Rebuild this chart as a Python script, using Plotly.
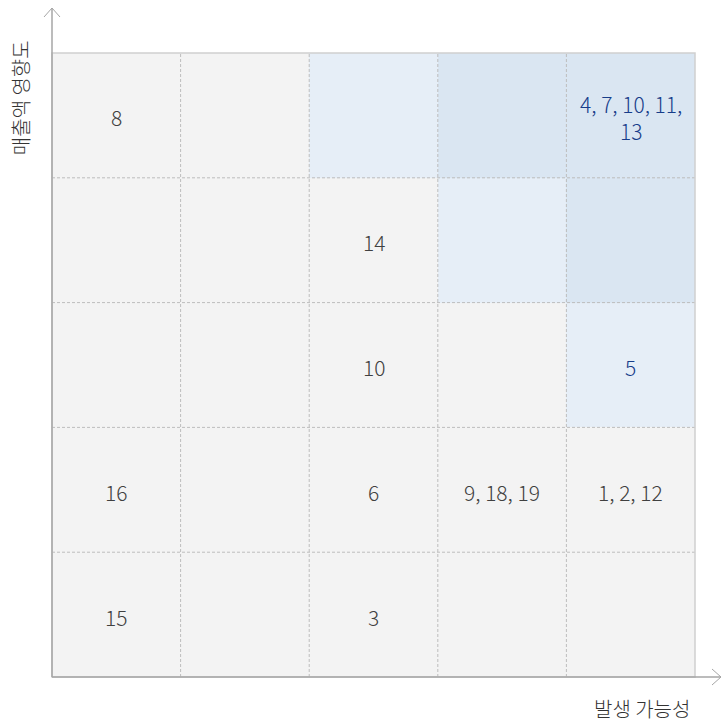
import plotly.graph_objects as go

# risk matrix: likelihood (x) vs sales impact (y)
likelihood = [1, 2, 3, 4, 5]
impact = [1, 2, 3, 4, 5]
# 0 = normal, 1 = watch, 2 = high (rows from impact 1 up to 5)
zone = [
    [0, 0, 0, 0, 0],
    [0, 0, 0, 0, 0],
    [0, 0, 0, 0, 1],
    [0, 0, 0, 1, 2],
    [0, 0, 1, 2, 2],
]

# risk item numbers placed in each cell
item_x = [1, 5, 3, 3, 5, 1, 3, 4, 5, 1, 3]
item_y = [5, 5, 4, 3, 3, 2, 2, 2, 2, 1, 1]
item_text = ["8", "4, 7, 10, 11,<br>13", "14", "10", "5", "16", "6",
             "9, 18, 19", "1, 2, 12", "15", "3"]

FONT = "Noto Sans CJK KR"
GRAY_TXT = "#404040"
BLUE_TXT = "#173d8a"

zone_of = {(x, y): zone[y - 1][x - 1] for x in likelihood for y in impact}

fig = go.Figure()
fig.add_trace(go.Heatmap(
    x=likelihood, y=impact, z=zone,
    zmin=0, zmax=2,
    colorscale=[[0, "#f3f3f3"], [0.25, "#f3f3f3"], [0.25, "#e6eef7"],
                [0.75, "#e6eef7"], [0.75, "#dae6f2"], [1, "#dae6f2"]],
    showscale=False, hoverinfo="skip",
))

# cell labels, blue on the highlighted cells
for x, y, t in zip(item_x, item_y, item_text):
    color = BLUE_TXT if zone_of[(x, y)] > 0 else GRAY_TXT
    fig.add_annotation(x=x, y=y, text=t, showarrow=False, yshift=-2,
                       font=dict(family=FONT, size=21, color=color, weight=300))

# dashed cell separators
grid = dict(color="#bdbdbd", width=1, dash="3px,2px")
for b in [1.5, 2.5, 3.5, 4.5]:
    fig.add_shape(type="line", xref="x", yref="y", x0=b, x1=b, y0=0.5, y1=5.5,
                  line=grid, layer="above")
    fig.add_shape(type="line", xref="x", yref="y", x0=0.5, x1=5.5, y0=b, y1=b,
                  line=grid, layer="above")

# outer frame (top/right lighter)
fig.add_shape(type="rect", xref="paper", yref="paper", x0=0, x1=1, y0=0, y1=1,
              line=dict(color="#d0d0d0", width=1.5), layer="above")

# axes with open arrowheads
ax_line = dict(color="#a6a6a6", width=1.5)
W, H = 643.0, 624.0
fig.add_shape(type="line", xref="paper", yref="paper", x0=0, x1=0,
              y0=0, y1=669 / H, line=ax_line, layer="above")
fig.add_shape(type="line", xref="paper", yref="paper", x0=0, x1=669 / W,
              y0=0, y1=0, line=ax_line, layer="above")
arrow = dict(color="#a6a6a6", width=1)
fig.add_shape(type="path", xref="paper", yref="paper",
              path=f"M {-8 / W} {660 / H} L 0 {669 / H} L {8 / W} {660 / H}",
              line=arrow, layer="above")
fig.add_shape(type="path", xref="paper", yref="paper",
              path=f"M {660 / W} {8 / H} L {669 / W} 0 L {660 / W} {-8 / H}",
              line=arrow, layer="above")

fig.add_annotation(xref="paper", yref="paper", x=0.996, y=-0.05,
                   xanchor="right", yanchor="middle", showarrow=False,
                   text="발생 가능성",
                   font=dict(family=FONT, size=20, color="#333333", weight=300))
fig.add_annotation(xref="paper", yref="paper", x=-0.05, y=0.929,
                   xanchor="center", yanchor="middle", showarrow=False, textangle=-90,
                   text="매출액 영향도",
                   font=dict(family=FONT, size=20, color="#333333", weight=300))

fig.update_xaxes(range=[0.5, 5.5], showgrid=False, zeroline=False,
                 showticklabels=False, ticks="", fixedrange=True)
fig.update_yaxes(range=[0.5, 5.5], showgrid=False, zeroline=False,
                 showticklabels=False, ticks="", fixedrange=True)
fig.update_layout(
    width=723, height=722,
    margin=dict(l=52, r=28, t=53, b=45),
    paper_bgcolor="white", plot_bgcolor="white",
    showlegend=False,
    font=dict(family=FONT),
)

# drop the default 8px body margin so the figure fills the window exactly
fig.write_html("out.html", config={"displayModeBar": False},
               post_script="document.body.style.margin='0';"
                           "document.body.style.overflow='hidden';")
